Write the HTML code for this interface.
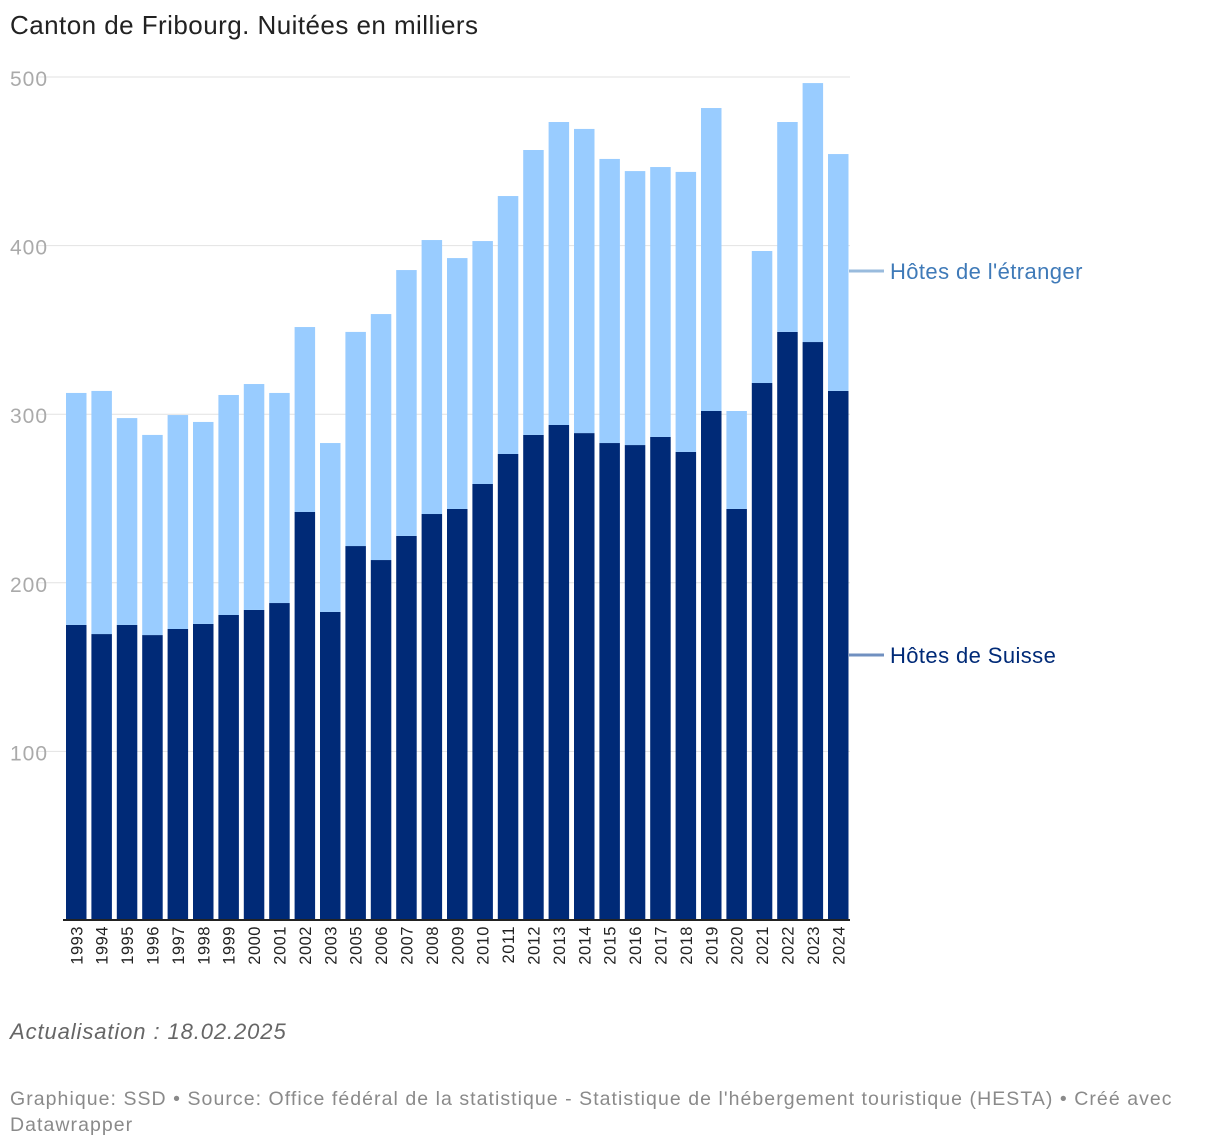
<!DOCTYPE html>
<html><head><meta charset="utf-8"><style>
body{margin:0;background:#fff;font-family:"Liberation Sans",Arial,sans-serif;}
#wrap{position:relative;width:1220px;height:1148px;overflow:hidden;}
.t{position:absolute;white-space:nowrap;}
</style></head><body>
<div id="wrap">
<div class="t" style="left:10px;top:10px;font-size:26px;letter-spacing:0.45px;color:#222;">Canton de Fribourg. Nuitées en milliers</div>
<svg id="chart" width="1220" height="1000" style="position:absolute;left:0;top:0;"></svg>
<div class="t" style="left:10px;top:1019px;font-size:22px;letter-spacing:0.9px;font-style:italic;color:#666;">Actualisation : 18.02.2025</div>
<div style="position:absolute;left:10px;top:1086px;width:1200px;font-size:19.5px;letter-spacing:1.05px;line-height:26px;color:#8a8a8a;white-space:nowrap;">Graphique: SSD • Source: Office fédéral de la statistique - Statistique de l'hébergement touristique (HESTA) • Créé avec<br>Datawrapper</div>
</div>
<script>
const years=["1993","1994","1995","1996","1997","1998","1999","2000","2001","2002","2003","2005","2006","2007","2008","2009","2010","2011","2012","2013","2014","2015","2016","2017","2018","2019","2020","2021","2022","2023","2024"];
const swiss=[175,169.6,175,169,172.6,175.6,180.9,183.9,188,242,182.7,221.8,213.5,227.8,240.8,243.8,258.6,276.4,287.7,293.6,288.8,282.9,281.7,286.5,277.6,301.9,243.8,318.5,348.8,342.8,313.8];
const foreign=[137.6,144.2,122.7,118.7,126.9,119.8,130.5,134,124.6,109.7,100.2,127,145.9,157.7,162.5,148.8,144.1,153,169,179.7,180.4,168.5,162.5,160.1,166.1,179.7,58.1,78.3,124.5,153.6,140.5];
const ticks=[100,200,300,400,500];
const svg=document.getElementById('chart');const NS="http://www.w3.org/2000/svg";
const y0=920,pxPer=1.686,x0=66,pitch=25.4,bw=20.5;
const Y=v=>y0-v*pxPer;const X=i=>x0+i*pitch;
function mk(t,a){const e=document.createElementNS(NS,t);for(const k in a)e.setAttribute(k,a[k]);svg.appendChild(e);return e;}
ticks.forEach(t=>{
 const l=mk('line',{x1:37,x2:850,y1:Y(t),y2:Y(t),stroke:'#e2e2e2','stroke-width':1});
 
 
 const tx=mk('text',{x:10,y:Y(t)+9,'font-size':21,'letter-spacing':1,fill:'#aaa','font-family':'Liberation Sans, sans-serif'});tx.textContent=t;
 
 
});
years.forEach((yr,i)=>{
 const s=mk('rect',{x:X(i),y:Y(swiss[i]),width:bw,height:swiss[i]*pxPer,fill:'#002a77'});
 
 
 const tot=swiss[i]+foreign[i];
 const f=mk('rect',{x:X(i),y:Y(tot),width:bw,height:foreign[i]*pxPer,fill:'#99ccff'});
 
 
 const cx=X(i)+bw/2+6;
 const t=mk('text',{x:cx,y:926,'font-size':16.5,'letter-spacing':0.5,fill:'#222','text-anchor':'end','font-family':'Liberation Sans, sans-serif',transform:`rotate(-90 ${cx} 926)`});t.textContent=yr;
 
 
});
const ax=mk('line',{x1:63,x2:850,y1:y0,y2:y0,stroke:'#222','stroke-width':2});


const l1=mk('line',{x1:849,x2:884,y1:271,y2:271,stroke:'#99bbdd','stroke-width':3});


const t1=mk('text',{x:890,y:279,'font-size':22,'letter-spacing':0.4,fill:'#3f7ab8','font-family':'Liberation Sans, sans-serif'});t1.textContent="Hôtes de l'étranger";


const l2=mk('line',{x1:849,x2:884,y1:655,y2:655,stroke:'#7090c0','stroke-width':3});


const t2=mk('text',{x:890,y:663,'font-size':22,'letter-spacing':0.4,fill:'#002a77','font-family':'Liberation Sans, sans-serif'});t2.textContent="Hôtes de Suisse";


</script>
</body></html>
